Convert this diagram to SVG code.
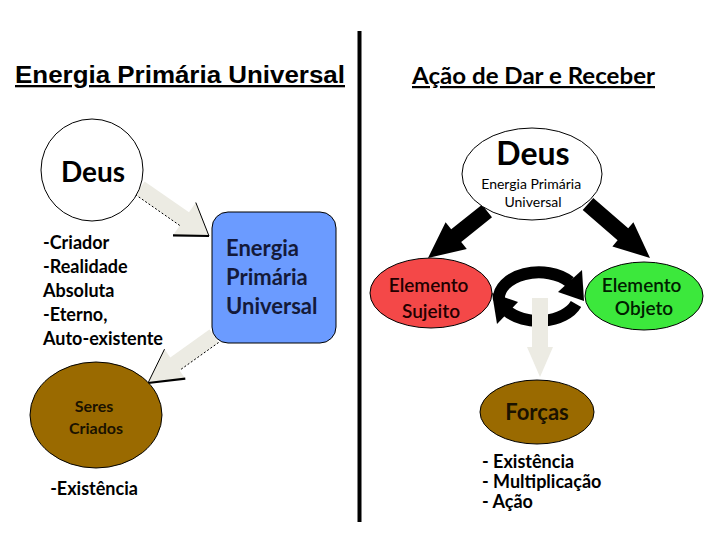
<svg xmlns="http://www.w3.org/2000/svg" width="720" height="540" viewBox="0 0 720 540">
<style>
.t{font-family:Lato,"Open Sans","Liberation Sans",sans-serif;font-weight:700;fill:#000}
.r{font-weight:400}
.m{font-weight:600}
.hdr{font-family:"Liberation Sans",Arial,sans-serif;font-weight:700;font-size:23px;text-decoration:underline}
.beige{fill:#ecebe3;stroke:none}
.edge{stroke:#000;fill:none}
.dot{stroke:#000;stroke-width:1;stroke-dasharray:2 2;fill:none}
.blk{fill:#000}
.outline{stroke:#000;stroke-width:1}
</style>
<rect width="720" height="540" fill="#fff"/>
<line x1="359.5" y1="31" x2="359.5" y2="522" stroke="#000" stroke-width="4"/>
<text class="hdr" x="15" y="83" textLength="330" lengthAdjust="spacingAndGlyphs">Energia Primária Universal</text>
<text class="t" x="412" y="84" font-size="22" textLength="243" lengthAdjust="spacingAndGlyphs" text-decoration="underline">Ação de Dar e Receber</text>

<g id="connectors">
  <g id="arrow-deus-energia">
    <polygon class="beige" points="135.4,194.6 179.8,225.5 173,235.3 209,236 195.8,202.5 189,212.3 144.6,181.4"/>
    <line class="dot" x1="135.4" y1="194.6" x2="179.8" y2="225.5"/>
    <polyline class="edge" stroke-width="2.2" points="173,235.3 209,236"/>
    <polyline class="edge" stroke-width="1" points="195.8,202.5 209,236"/>
  </g>
  <g id="arrow-energia-seres">
    <polygon class="beige" points="218.6,342.5 179.5,370.4 185.3,378.6 148,383 164.5,349.2 170.3,357.4 209.4,329.5"/>
    <line class="dot" x1="218.6" y1="342.5" x2="179.5" y2="370.4"/>
    <polyline class="edge" stroke-width="2.2" points="185.3,378.6 148,383"/>
    <polyline class="edge" stroke-width="1" points="164.5,349.2 148,383"/>
  </g>
  <polygon id="arrow-deus-sujeito" class="blk" points="492,217.3 461.2,241.9 466.8,248.9 428,258 445.6,222.3 451.2,229.3 482,204.7"/>
  <polygon id="arrow-deus-objeto" class="blk" points="582.7,210 617.6,240.3 612.4,246.4 650,258 633.4,222.2 628.2,228.3 593.3,198"/>
  <g id="cycle">
    <path d="M499,300 A40,26 0 0 1 570,282" fill="none" stroke="#000" stroke-width="12"/>
    <polygon class="blk" points="584,301 558,292 582,270"/>
    <path d="M576,304 A40,26 0 0 1 506,310" fill="none" stroke="#000" stroke-width="12"/>
    <polygon class="blk" points="492,293 518,302 497,324"/>
  </g>
  <polygon id="arrow-forcas" class="beige" points="532,298 548,298 548,347 553,347 540,377 527,347 532,347"/>
</g>

<g id="deus-left">
  <circle cx="92" cy="170" r="51" fill="#fff" class="outline"/>
  <text class="t" x="93" y="182" font-size="28" text-anchor="middle">Deus</text>
</g>
<g id="deus-attrs">
  <text class="t" font-size="18">
    <tspan x="43" y="249">-Criador</tspan>
    <tspan x="43" y="273">-Realidade</tspan>
    <tspan x="43" y="297">Absoluta</tspan>
    <tspan x="43" y="321">-Eterno,</tspan>
    <tspan x="43" y="345">Auto-existente</tspan>
  </text>
</g>
<g id="energia-box">
  <rect x="212" y="212" width="124" height="131" rx="16" fill="#6b9bff" class="outline"/>
  <text class="t" font-size="22" style="fill:#141a3a">
    <tspan x="226" y="256">Energia</tspan>
    <tspan x="226" y="285">Primária</tspan>
    <tspan x="226" y="314">Universal</tspan>
  </text>
</g>
<g id="seres-criados">
  <ellipse cx="96" cy="415" rx="66" ry="53" fill="#9a6a00" class="outline"/>
  <text class="t" font-size="16" text-anchor="middle" style="fill:#1a1200">
    <tspan x="96" y="412">Seres</tspan>
    <tspan x="96" y="434">Criados</tspan>
  </text>
  <text class="t" x="94" y="495" font-size="18" text-anchor="middle">-Existência</text>
</g>

<g id="deus-right">
  <ellipse cx="532" cy="174" rx="70" ry="46" fill="#fff" class="outline"/>
  <text class="t" x="533" y="165" font-size="32" text-anchor="middle">Deus</text>
  <text class="t r" font-size="14" text-anchor="middle">
    <tspan x="533" y="189">Energia Primária</tspan>
    <tspan x="533" y="207">Universal</tspan>
  </text>
</g>
<g id="elemento-sujeito">
  <ellipse cx="431" cy="293" rx="61" ry="35" fill="#f44848" class="outline"/>
  <text class="t m" font-size="19" text-anchor="middle" style="fill:#200">
    <tspan x="431" y="292">Elemento</tspan>
    <tspan x="431" y="318">Sujeito</tspan>
  </text>
</g>
<g id="elemento-objeto">
  <ellipse cx="644" cy="296" rx="59" ry="34" fill="#3ce83c" class="outline"/>
  <text class="t m" font-size="19" text-anchor="middle" style="fill:#002000">
    <tspan x="644" y="292">Elemento</tspan>
    <tspan x="644" y="315">Objeto</tspan>
  </text>
</g>
<g id="forcas">
  <ellipse cx="537" cy="412" rx="57" ry="32" fill="#9a6a00" class="outline"/>
  <text class="t" x="537" y="420" font-size="22" text-anchor="middle" style="fill:#1a1200">Forças</text>
  <text class="t" font-size="18">
    <tspan x="482" y="468">- Existência</tspan>
    <tspan x="482" y="488">- Multiplicação</tspan>
    <tspan x="482" y="508">- Ação</tspan>
  </text>
</g>
</svg>
